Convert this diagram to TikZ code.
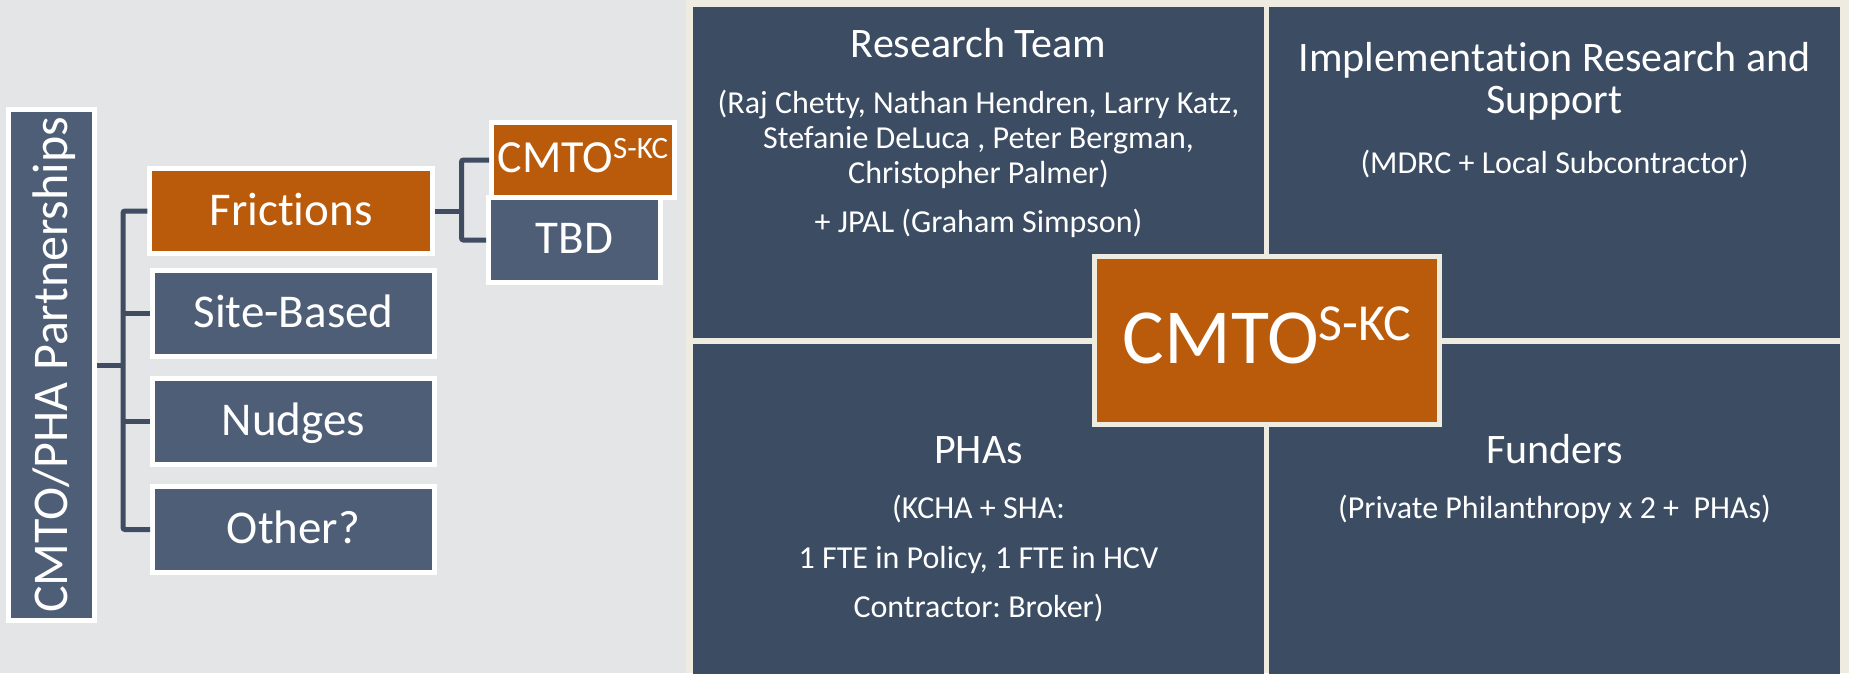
\documentclass[tikz,border=0pt]{standalone}
\usepackage{fontspec}
\setmainfont[Ligatures=NoCommon]{Carlito}
\frenchspacing
\definecolor{bgL}{HTML}{E4E5E7}
\definecolor{cream}{HTML}{EEECE1}
\definecolor{panelC}{HTML}{3B4C63}
\definecolor{slate}{HTML}{4F5E77}
\definecolor{orangeC}{HTML}{BA5A0B}
\definecolor{connC}{HTML}{3F4C61}
\begin{document}
\frenchspacing
\begin{tikzpicture}[x=1pt,y=-1pt,
  panel/.style={fill=panelC, draw=none, inner sep=0pt, outer sep=0pt},
  ttl/.style={text=white, inner sep=0pt, anchor=base, font=\fontsize{42}{50}\selectfont},
  sub/.style={text=white, inner sep=0pt, anchor=base, font=\fontsize{32}{38}\selectfont},
  lbox/.style={fill=slate, draw=white, line width=5pt, inner sep=0pt, text=white,
    font=\fontsize{47}{56}\selectfont, text height=30pt, text depth=2pt},
  obox/.style={lbox, fill=orangeC},
  conn/.style={draw=connC, line width=5pt, rounded corners=2pt}
]
\useasboundingbox (0,0) rectangle (1849,673);
\fill[bgL] (0,0) rectangle (686,673);
\fill[cream] (686,0) rectangle (1849,673);

% right-hand quadrants
\node[panel, minimum width=571pt, minimum height=331pt] (pTL) at (978.5,172.5) {};
\node[panel, minimum width=571pt, minimum height=331pt] (pTR) at (1554.5,172.5) {};
\node[panel, minimum width=571pt, minimum height=332.5pt] (pBL) at (978.5,509.75) {};
\node[panel, minimum width=571pt, minimum height=332.5pt] (pBR) at (1554.5,509.75) {};

\node[ttl] (tRT) at (978.5,57) {Research Team};
\node[sub] (sRT1) at (978.5,113) {(Raj Chetty, Nathan Hendren, Larry Katz,};
\node[sub] (sRT2) at (978.5,148) {Stefanie DeLuca , Peter Bergman,};
\node[sub] (sRT3) at (978.5,183) {Christopher Palmer)};
\node[sub] (sRT4) at (978.5,232) {+ JPAL (Graham Simpson)};

\node[ttl] (tIR1) at (1554.5,71) {Implementation Research and};
\node[ttl] (tIR2) at (1554.5,113) {Support};
\node[sub] (sIR) at (1554.5,173) {(MDRC + Local Subcontractor)};

\node[ttl] (tPH) at (978.5,463) {PHAs};
\node[sub] (sPH1) at (978.5,518) {(KCHA + SHA:};
\node[sub] (sPH2) at (978.5,568) {1 FTE in Policy, 1 FTE in HCV};
\node[sub] (sPH3) at (978.5,617) {Contractor: Broker)};

\node[ttl] (tFU) at (1554.5,463) {Funders};
\node[sub] (sFU) at (1554.5,518) {(Private Philanthropy x 2 +~ PHAs)};

% centre box
\node[fill=orangeC, draw=cream, line width=5pt, inner sep=0pt,
      minimum width=345pt, minimum height=168pt] (core) at (1267,340.5) {};
\node[text=white, inner sep=0pt, anchor=base, font=\fontsize{78}{90}\selectfont]
  (coreT) at (1267,363) {CMTO\raisebox{23pt}{\fontsize{52}{60}\selectfont S-KC}};

% left tree
\node[lbox, rotate=90, minimum width=511pt, minimum height=86pt,
      font=\fontsize{50}{58}\selectfont, text height=32pt, text depth=0pt]
  (root) at (51.5,365) {CMTO/PHA Partnerships};
\node[obox, minimum width=282.5pt, minimum height=85.5pt] (fric) at (291,211) {Frictions};
\node[lbox, minimum width=282pt, minimum height=86pt, text height=29pt] (site) at (293.5,313.5) {Site-Based};
\node[lbox, minimum width=282pt, minimum height=86pt, text height=29pt] (nudge) at (293.5,421.5) {Nudges};
\node[lbox, minimum width=282pt, minimum height=86pt, text height=29pt] (other) at (293.5,529.5) {Other?};

\node[obox, minimum width=183pt, minimum height=75pt, font=\fontsize{46}{54}\selectfont,
      text height=26pt, text depth=2pt]
  (cmto) at (583,160) {CMTO\raisebox{14pt}{\fontsize{31}{36}\selectfont S-KC}};
\node[lbox, minimum width=172pt, minimum height=85pt, text height=28pt, text depth=2pt]
  (tbd) at (574.5,240) {TBD};

\coordinate (trunk) at (123,365);
\coordinate (fork) at (461.5,211);
\draw[conn] (root.south) -- (trunk);
\draw[conn] (fric.west) -| (trunk) |- (other.west);
\draw[conn] (site.west) -- (site.west -| trunk);
\draw[conn] (nudge.west) -- (nudge.west -| trunk);
\draw[conn] (fric.east) -- (fork);
\draw[conn] (cmto.west) -| (fork) |- (tbd.west);
\end{tikzpicture}
\end{document}
